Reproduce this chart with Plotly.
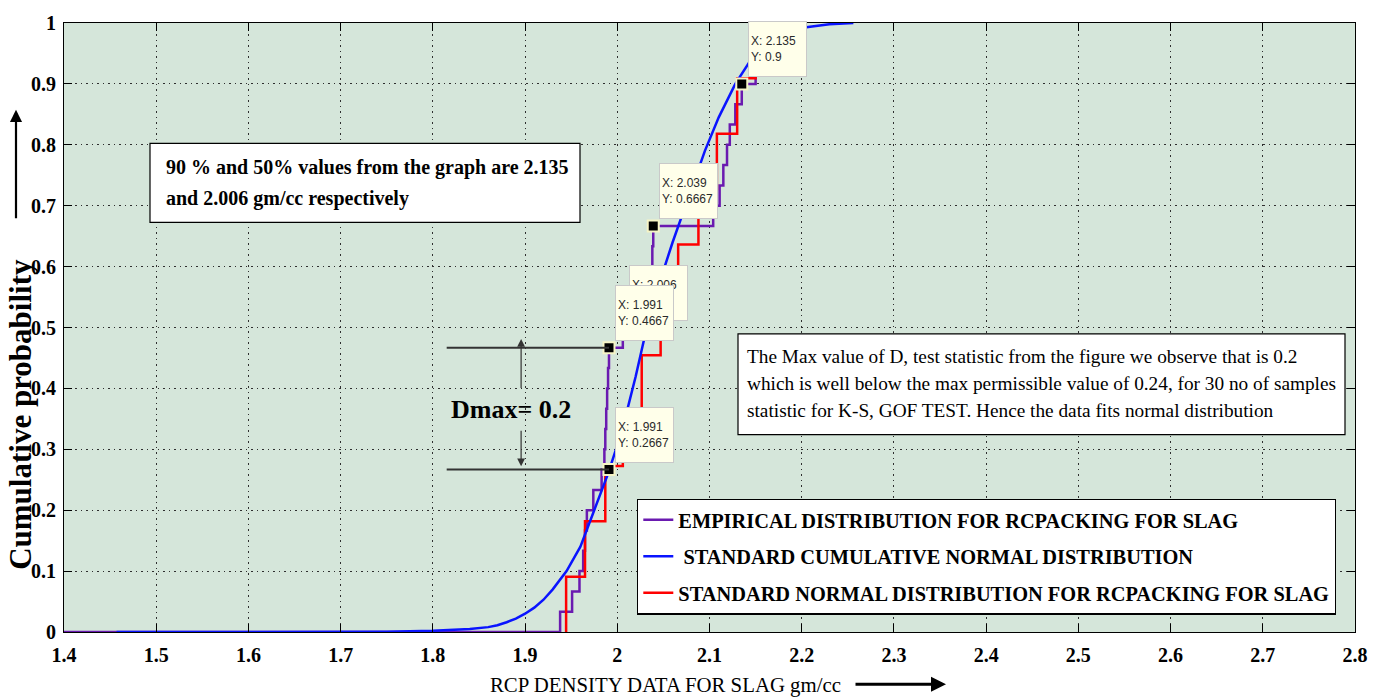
import plotly.graph_objects as go

# Sorted RCP density samples for slag (gm/cc) and their empirical cumulative probability
empirical_x = [1.938, 1.951, 1.959, 1.963, 1.965, 1.967, 1.974, 1.983, 1.986, 1.987,
               1.988, 1.989, 1.990, 1.991, 2.006, 2.036, 2.037, 2.038, 2.038, 2.039,
               2.104, 2.111, 2.115, 2.119, 2.122, 2.128, 2.135, 2.150, 2.170, 2.190]
empirical_p = [0.0333, 0.0667, 0.1, 0.1333, 0.1667, 0.2, 0.2333, 0.2667, 0.3, 0.3333,
               0.3667, 0.4, 0.4333, 0.4667, 0.5, 0.5333, 0.5667, 0.6, 0.6333, 0.6667,
               0.7, 0.7333, 0.7667, 0.8, 0.8333, 0.8667, 0.9, 0.9333, 0.9667, 1.0]

# Standard normal distribution steps for RC packing
fitted_x = [1.9445, 1.965, 1.987, 2.006, 2.0265, 2.047, 2.066, 2.088, 2.108, 2.130, 2.150]
fitted_p = [0.0909, 0.1818, 0.2727, 0.3636, 0.4545, 0.5455, 0.6364, 0.7273, 0.8182,
            0.9091, 1.0]

# Standard cumulative normal distribution curve
normal_x = [1.457, 1.60, 1.75, 1.80, 1.82, 1.84, 1.86, 1.87, 1.88, 1.89, 1.90, 1.91,
            1.92, 1.93, 1.945, 1.96, 1.975, 1.99, 2.005, 2.02, 2.032, 2.045, 2.06,
            2.079, 2.095, 2.11, 2.128, 2.145, 2.165, 2.185, 2.205, 2.23, 2.256]
normal_p = [0.0, 0.0, 0.0003, 0.002, 0.003, 0.005, 0.008, 0.011, 0.016, 0.022, 0.030,
            0.040, 0.053, 0.070, 0.10, 0.14, 0.20, 0.26, 0.33, 0.42, 0.50, 0.57, 0.64,
            0.72, 0.79, 0.845, 0.90, 0.94, 0.966, 0.983, 0.993, 0.998, 1.0]

# Data tips
tip_x = [2.006, 1.991, 1.991, 2.039, 2.135]
tip_y = [0.5, 0.4667, 0.2667, 0.6667, 0.9]

# Axis ticks
x_ticks = [1.4, 1.5, 1.6, 1.7, 1.8, 1.9, 2.0, 2.1, 2.2, 2.3, 2.4, 2.5, 2.6, 2.7, 2.8]
x_tick_text = ["1.4", "1.5", "1.6", "1.7", "1.8", "1.9", "2", "2.1", "2.2", "2.3",
               "2.4", "2.5", "2.6", "2.7", "2.8"]
y_ticks = [0, 0.1, 0.2, 0.3, 0.4, 0.5, 0.6, 0.7, 0.8, 0.9, 1.0]
y_tick_text = ["0", "0.1", "0.2", "0.3", "0.4", "0.5", "0.6", "0.7", "0.8", "0.9", "1"]

d_max = 0.2

SERIF = "Liberation Serif"
SANS = "Liberation Sans"
W, H = 1384, 700
ML, MR, MT, MB = 64, 29, 15, 68


def px(xp):
    """Horizontal page pixel -> paper coordinate."""
    return (xp - ML) / (W - ML - MR)


def py(yp):
    """Vertical page pixel -> paper coordinate."""
    return (H - MB - yp) / (H - MT - MB)


fig = go.Figure()

fig.add_trace(go.Scatter(
    x=[1.4] + empirical_x, y=[0.0] + empirical_p, mode="lines", line_shape="hv",
    line=dict(color="#6A1AB0", width=2.5),
    name="EMPIRICAL DISTRIBUTION FOR RCPACKING FOR SLAG",
    legendgroup="a", legendrank=1))

fig.add_trace(go.Scatter(
    x=[fitted_x[0]] + fitted_x, y=[0.0] + fitted_p, mode="lines", line_shape="hv",
    line=dict(color="#FF0000", width=2.5),
    name="STANDARD NORMAL DISTRIBUTION FOR RCPACKING FOR SLAG",
    legendgroup="c", legendrank=3))

fig.add_trace(go.Scatter(
    x=normal_x, y=normal_p, mode="lines",
    line=dict(color="#0A14FF", width=2.5),
    name="\u00a0STANDARD CUMULATIVE NORMAL DISTRIBUTION",
    legendgroup="b", legendrank=2))

fig.add_trace(go.Scatter(
    x=tip_x, y=tip_y, mode="markers", showlegend=False, hoverinfo="skip",
    marker=dict(symbol="square", size=11, color="black",
                line=dict(color="#F6F4C6", width=2))))

annotations = []

# Data tip boxes
for tx, ty in zip(tip_x, tip_y):
    ytxt = f"{ty:g}" if ty in (0.5, 0.9) else f"{ty:.4f}"
    annotations.append(dict(
        x=tx, y=ty, xref="x", yref="y", xanchor="left", yanchor="bottom",
        xshift=6, yshift=7, showarrow=False, align="left",
        text=f"X: {tx:g}<br>Y: {ytxt}",
        font=dict(family=SANS, size=12, color="#2A2A2A"),
        bgcolor="#FFFFEA", bordercolor="#C9C9C9", borderwidth=1,
        borderpad=2, width=53, height=50))

# D-max markers
annotations.append(dict(
    x=1.8957, y=0.481, ax=1.8957, ay=0.398, xref="x", yref="y", axref="x", ayref="y",
    text="", showarrow=True, arrowhead=2, arrowsize=1.3, arrowwidth=1.2,
    arrowcolor="#333333"))
annotations.append(dict(
    x=1.8957, y=0.272, ax=1.8957, ay=0.333, xref="x", yref="y", axref="x", ayref="y",
    text="", showarrow=True, arrowhead=2, arrowsize=1.3, arrowwidth=1.2,
    arrowcolor="#333333"))
annotations.append(dict(
    x=1.885, y=0.3647, xref="x", yref="y", showarrow=False,
    xanchor="center", yanchor="middle",
    text=f"Dmax= {d_max:g}", font=dict(family=SERIF, size=26, color="black", weight="bold")))

# Text boxes
box1_lines = ["90 % and 50% values from the graph are 2.135",
              "and 2.006 gm/cc respectively"]
for i, line in enumerate(box1_lines):
    annotations.append(dict(
        x=px(164), y=py(161 + 32 * i), xref="paper", yref="paper", xanchor="left",
        yanchor="middle", showarrow=False, text=line,
        font=dict(family=SERIF, size=20, color="black", weight="bold")))

box2_lines = ["The Max value of D, test statistic from the figure we observe that is 0.2",
              "which is well below the max permissible value of 0.24, for 30 no of samples",
              "statistic for K-S, GOF TEST. Hence the data fits normal distribution"]
for i, line in enumerate(box2_lines):
    annotations.append(dict(
        x=px(745), y=py(353 + 27.5 * i), xref="paper", yref="paper", xanchor="left",
        yanchor="middle", showarrow=False, text=line,
        font=dict(family=SERIF, size=19.3, color="black")))

# Axis titles with direction arrows
annotations.append(dict(
    x=px(665), y=py(686), xref="paper", yref="paper", showarrow=False,
    xanchor="center", yanchor="middle",
    text="RCP DENSITY DATA FOR SLAG gm/cc",
    font=dict(family=SERIF, size=20.8, color="black")))
annotations.append(dict(
    x=px(946), y=py(685), ax=-92, ay=0, xref="paper", yref="paper", text="",
    showarrow=True, arrowhead=2, arrowsize=1, arrowwidth=3, arrowcolor="black"))
annotations.append(dict(
    x=px(21), y=py(412), xref="paper", yref="paper", showarrow=False, textangle=-90,
    xanchor="center", yanchor="middle",
    text="Cumulative probability",
    font=dict(family=SERIF, size=31, color="black", weight="bold")))
annotations.append(dict(
    x=px(16), y=py(103), ax=0, ay=110, xref="paper", yref="paper", text="",
    showarrow=True, arrowhead=2, arrowsize=1.1, arrowwidth=2.2, arrowcolor="black"))

shapes = [
    dict(type="line", xref="x", yref="y", x0=1.815, x1=tip_x[1], y0=tip_y[1], y1=tip_y[1],
         line=dict(color="#333333", width=2)),
    dict(type="line", xref="x", yref="y", x0=1.815, x1=tip_x[2], y0=tip_y[2], y1=tip_y[2],
         line=dict(color="#333333", width=2)),
    dict(type="rect", xref="paper", yref="paper", x0=px(150), x1=px(580),
         y0=py(217), y1=py(137), fillcolor="white", line=dict(color="black", width=1.2),
         layer="above"),
    dict(type="rect", xref="paper", yref="paper", x0=px(738), x1=px(1345),
         y0=py(432), y1=py(330), fillcolor="white", line=dict(color="black", width=1.2),
         layer="above"),
]

axis_common = dict(
    showline=True, linecolor="black", linewidth=1.2, mirror="allticks",
    ticks="inside", ticklen=8, tickcolor="black", tickwidth=1,
    showgrid=True, gridcolor="#2E2E2E", gridwidth=1.2, griddash="1.5px,4px",
    zeroline=False, tickfont=dict(family=SERIF, size=20, color="black", weight="bold"))

fig.update_layout(
    width=W, height=H, margin=dict(l=ML, r=MR, t=MT, b=MB),
    paper_bgcolor="white", plot_bgcolor="#D5E6DA",
    xaxis=dict(range=[1.4, 2.8], tickvals=x_ticks, ticktext=x_tick_text,
               ticklabelstandoff=5, **axis_common),
    yaxis=dict(range=[0, 1], tickvals=y_ticks, ticktext=y_tick_text,
               ticklabelstandoff=3, **axis_common),
    showlegend=True,
    legend=dict(x=px(637), y=py(497), xanchor="left", yanchor="top",
                bgcolor="white", bordercolor="black", borderwidth=1.3,
                font=dict(family=SERIF, size=20.4, color="black", weight="bold"),
                tracegroupgap=7, itemwidth=30, traceorder="grouped"),
    annotations=annotations, shapes=shapes,
)

fig.write_html("out.html")
